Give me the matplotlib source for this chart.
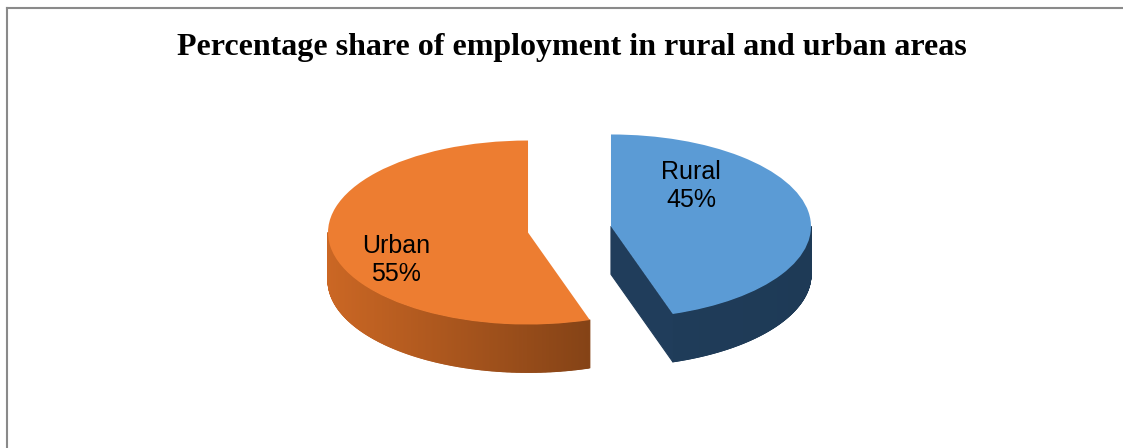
import numpy as np
import matplotlib.pyplot as plt
from matplotlib.collections import PolyCollection
from matplotlib.colors import to_rgb
from matplotlib.lines import Line2D

categories = ["Rural", "Urban"]
shares = [45, 55]
top_colors = ["#5B9BD5", "#ED7D31"]
# side shading: (left colour, right colour)
side_colors = [("#22405F", "#1E3A56"), ("#CB6724", "#60300F")]
label_offsets = [(0.40, 0.44), (-0.66, -0.30)]

title = "Percentage share of employment in rural and urban areas"

depth = 0.52          # thickness of the pie, in y data units
explode = 0.21

fig = plt.figure(figsize=(11.23, 4.48), dpi=100)
ax = fig.add_axes([0, 0, 1, 1])

wedges, _ = ax.pie(shares, colors=top_colors, startangle=90, counterclock=False,
                   explode=[explode] * len(shares), radius=1.0,
                   wedgeprops=dict(linewidth=0, zorder=5))


def mix(c0, c1, t):
    a, b = np.array(to_rgb(c0)), np.array(to_rgb(c1))
    return tuple(a + (b - a) * t)


for w, (c_left, c_right) in zip(wedges, side_colors):
    cx, cy = w.center
    r = w.r
    t1, t2 = w.theta1, w.theta2
    polys, cols = [], []

    # radial cut faces that face the viewer
    for ang, normal in ((t1, t1 - 90), (t2, t2 + 90)):
        if np.sin(np.radians(normal)) < -1e-6:
            ex = cx + r * np.cos(np.radians(ang))
            ey = cy + r * np.sin(np.radians(ang))
            polys.append([(cx, cy), (ex, ey), (ex, ey - depth), (cx, cy - depth)])
            cols.append(mix(c_left, c_right, 0.5))

    # outer wall on the front half of the circle
    for lo, hi in ((-540, -360), (-180, 0), (180, 360)):
        a0, a1 = max(t1, lo), min(t2, hi)
        if a1 <= a0:
            continue
        angs = np.radians(np.linspace(a0, a1, 300))
        xs = cx + r * np.cos(angs)
        ys = cy + r * np.sin(angs)
        for i in range(len(angs) - 1):
            polys.append([(xs[i], ys[i]), (xs[i + 1], ys[i + 1]),
                          (xs[i + 1], ys[i + 1] - depth), (xs[i], ys[i] - depth)])
            t = (0.5 * (xs[i] + xs[i + 1]) - (cx - r)) / (2 * r)
            cols.append(mix(c_left, c_right, np.clip(t, 0, 1)))

    ax.add_collection(PolyCollection(polys, facecolors=cols, edgecolors=cols,
                                     linewidths=0.8, zorder=3))

for w, name, val, (dx, dy) in zip(wedges, categories, shares, label_offsets):
    ax.text(w.center[0] + dx, w.center[1] + dy, f"{name}\n{val}%",
            ha="center", va="center", fontsize=18, family="Liberation Sans",
            linespacing=1.25, zorder=6)

# flatten the circle into the tilted ellipse
ax.set_aspect("auto")
ax.set_xlim(-569.5 / 200, (1123 - 569.5) / 200)
ax.set_ylim(-218.5 / 92, (448 - 218.5) / 92)
ax.axis("off")

fig.text(571.5 / 1123, 1 - 47 / 448, title, ha="center", va="center",
         fontsize=23, fontweight="bold", family="Liberation Serif")

# chart frame
fig.add_artist(Line2D([7 / 1123, 7 / 1123], [0, 1 - 8 / 448], transform=fig.transFigure,
                      color="#8A8A8A", lw=1.5))
fig.add_artist(Line2D([7 / 1123, 1], [1 - 8 / 448, 1 - 8 / 448], transform=fig.transFigure,
                      color="#8A8A8A", lw=1.5))

fig.savefig("out.png", dpi=100)
